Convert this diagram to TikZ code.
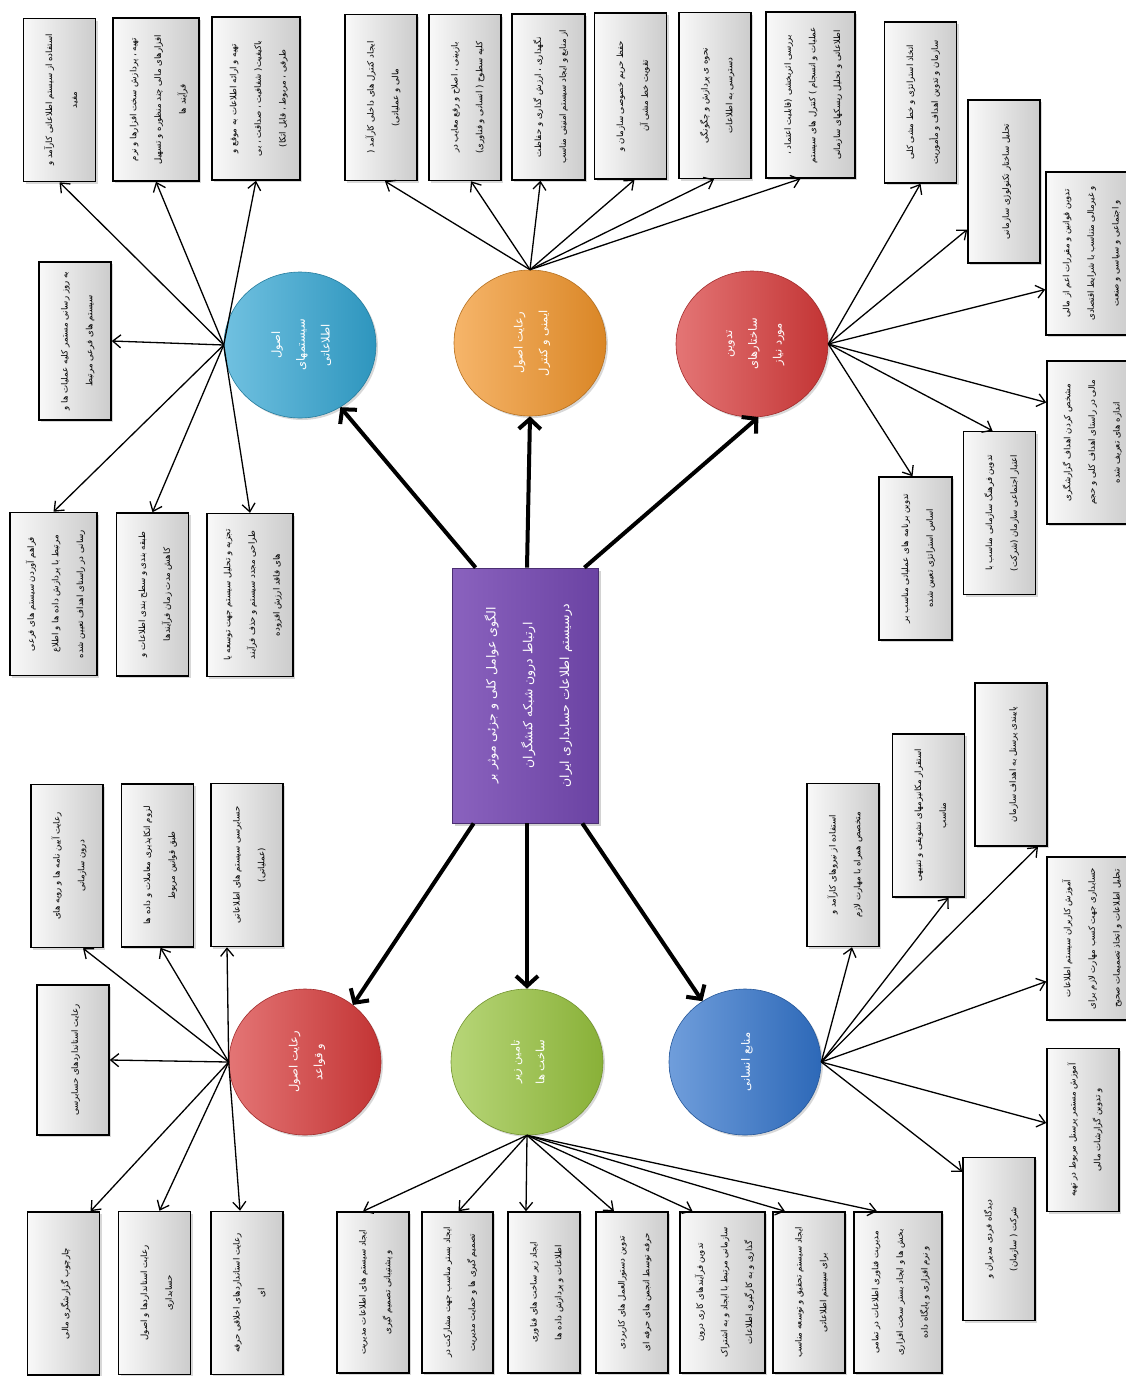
\documentclass[tikz,border=0pt]{standalone}
\usepackage{fontspec}
\usepackage{graphicx}
\usetikzlibrary{arrows.meta,shadows,shapes.geometric}
\newfontfamily\arabicfont[Script=Arabic]{DejaVu Sans}
\TeXXeTstate=1
\newcommand\ar[1]{\beginR #1\endR}
\newcommand\vtext[1]{\rotatebox{90}{\begin{tabular}{@{}c@{}}#1\end{tabular}}}
\definecolor{cblue}{HTML}{33A6D3}
\definecolor{corange}{HTML}{F2952A}
\definecolor{cred}{HTML}{D83A3A}
\definecolor{cgreen}{HTML}{98C43E}
\definecolor{cdblue}{HTML}{3274CC}
\definecolor{cpurpleA}{HTML}{8A62BE}
\definecolor{cpurpleB}{HTML}{6B43A3}
\begin{document}
\begin{tikzpicture}[x=1pt,y=-1pt,
  box/.style={draw=black, line width=1.5pt, left color=gray!5, right color=gray!40,
    minimum width=72pt, minimum height=163pt, inner sep=0pt,
    drop shadow={shadow xshift=2pt,shadow yshift=-2pt,opacity=0.3},
    font={\arabicfont\fontsize{8.6}{10.5}\selectfont\def\arraystretch{2.35}}},
  bubble/.style={ellipse, minimum width=152pt, minimum height=146pt, inner sep=0pt,
    draw=#1!75!black, line width=0.6pt, left color=#1!70!white, right color=#1!90!black,
    drop shadow={shadow xshift=2pt,shadow yshift=-2pt,opacity=0.3},
    text=white, font={\arabicfont\fontsize{11.5}{13}\selectfont\def\arraystretch{1.9}}},
  cboxst/.style={draw=cpurpleB!70!black, line width=0.8pt, left color=cpurpleA, right color=cpurpleB,
    minimum width=146pt, minimum height=255pt, inner sep=0pt,
    drop shadow={shadow xshift=3pt,shadow yshift=-3pt,opacity=0.35},
    text=white, font={\arabicfont\fontsize{12.5}{15}\selectfont\def\arraystretch{2.45}}},
  conn/.style={-{Straight Barb[length=8pt,width=13pt]}, line width=1.3pt},
  bigarrow/.style={-{Straight Barb[length=10pt,width=22pt]}, line width=4pt}
]
\fill[white] (0,0) rectangle (1126,1376);
\useasboundingbox (0,0) rectangle (1126,1376);

% central box
\node[cboxst] (cb) at (525,695.5) {\vtext{\ar{الگوی عوامل کلی و جزئی موثر بر}\\ \ar{ارتباط درون شبکه کنشگران}\\ \ar{درسیستم اطلاعات حسابداری ایران}}};

% circles
\node[bubble=cblue] (bt) at (300,345) {\vtext{\ar{اصول}\\ \ar{سیستمهای}\\ \ar{اطلاعاتی}}};
\node[bubble=corange] (ot) at (530,343) {\vtext{\ar{رعایت اصول}\\ \ar{ایمنی و کنترل}}};
\node[bubble=cred] (rt) at (752,344) {\vtext{\ar{تدوین}\\ \ar{ساختارهای}\\ \ar{مورد نیاز}}};
\node[bubble=cred] (rb) at (305,1062) {\vtext{\ar{رعایت اصول}\\ \ar{و قواعد}}};
\node[bubble=cgreen] (gb) at (527,1062) {\vtext{\ar{تامین زیر}\\ \ar{ساخت ها}}};
\node[bubble=cdblue] (db) at (745,1062) {\vtext{\ar{منابع انسانی}}};

% thick arrows
\draw[bigarrow] ([xshift=24pt]cb.north west) -- (bt.-57);
\draw[bigarrow] ([xshift=2pt]cb.north) -- (ot.south);
\draw[bigarrow] ([xshift=-14pt]cb.north east) -- (rt.-85);
\draw[bigarrow] ([xshift=22pt]cb.south west) -- (rb.50);
\draw[bigarrow] ([xshift=2pt]cb.south) -- (gb.north);
\draw[bigarrow] ([xshift=-16pt]cb.south east) -- (db.125);

% group A (blue top)
\node[box] (A1) at (59.5,100) {\vtext{\ar{استفاده از سیستم اطلاعاتی کارآمد و}\\ \ar{مفید}}};
\node[box, minimum width=86pt] (A2) at (156,99.5) {\vtext{\ar{تهیه ، پردازش سخت افزارها و نرم}\\ \ar{افزارهای مالی چند منظوره و تسهیل}\\ \ar{فرآیند ها}}};
\node[box, minimum width=88pt] (A3) at (256,98.5) {\vtext{\ar{تهیه و ارائه اطلاعات به موقع و}\\ \ar{باکیفیت( شفافیت ، صداقت ، بی}\\ \ar{طرفی ، مربوط ، قابل اتکا)}}};
\node[box, minimum height=158pt] (A4) at (75,341) {\vtext{\ar{به روز رسانی مستمر کلیه عملیات ها و}\\ \ar{سیستم های فرعی مرتبط}}};
\node[box, minimum width=87pt] (A5) at (53.5,594) {\vtext{\ar{فراهم آوردن سیستم های فرعی}\\ \ar{مرتبط با پردازش داده ها و اطلاع}\\ \ar{رسانی در راستای اهداف تعیین شده}}};
\node[box] (A6) at (152.5,594.5) {\vtext{\ar{طبقه بندی و سطح بندی اطلاعات و}\\ \ar{کاهش مدت زمان فرآیندها}}};
\node[box, minimum width=86pt] (A7) at (250,595) {\vtext{\ar{تجزیه و تحلیل سیستم جهت توسعه یا}\\ \ar{طراحی مجدد سیستم و حذف فرآیند}\\ \ar{های فاقد ارزش افزوده}}};
\foreach \n in {A1,A2,A3} \draw[conn] (bt.west) -- (\n.south);
\draw[conn] (bt.west) -- (A4.east);
\foreach \n in {A5,A6,A7} \draw[conn] (bt.west) -- (\n.north);

% group B (orange)
\node[box, minimum height=166pt] (B1) at (381,97.5) {\vtext{\ar{ایجاد کنترل های داخلی کارآمد (}\\ \ar{مالی و عملیاتی)}}};
\node[box, minimum height=166pt] (B2) at (465,97.5) {\vtext{\ar{بازبینی ، اصلاح و رفع معایب در}\\ \ar{کلیه سطوح ( انسانی و فناوری)}}};
\node[box, minimum height=166pt, minimum width=73pt] (B3) at (548.5,97) {\vtext{\ar{نگهداری ، ارزش گذاری و حفاظت}\\ \ar{از منابع و ایجاد سیستم امنیتی مناسب}}};
\node[box, minimum height=166pt] (B4) at (630.5,96) {\vtext{\ar{حفظ حریم خصوصی سازمان و}\\ \ar{تقویت خط مشی آن}}};
\node[box, minimum height=166pt] (B5) at (715,95.5) {\vtext{\ar{نحوه ی پردازش و چگونگی}\\ \ar{دسترسی به اطلاعات}}};
\node[box, minimum height=166pt, minimum width=89pt] (B6) at (810.5,95) {\vtext{\ar{بررسی اثربخشی (قابلیت اعتماد ،}\\ \ar{عملیات و انسجام ) کنترل های سیستم}\\ \ar{اطلاعاتی و تحلیل ریسکهای سازمانی}}};
\foreach \n/\s in {B1/4,B2/6,B3/-8,B4/4,B5/-1,B6/-10} \draw[conn] (ot.north) -- ([xshift=\s pt]\n.south);

% group C (red top)
\node[box, minimum height=161pt] (C1) at (920.5,102.5) {\vtext{\ar{اتخاذ استراتژی و خط مشی کلی}\\ \ar{سازمان و تدوین اهداف و مأموریت}}};
\node[box] (C2) at (1004,181.5) {\vtext{\ar{تحلیل ساختار تکنولوژی سازمانی}}};
\node[box, minimum width=86pt] (C3) at (1089,253.5) {\vtext{\ar{تدوین قوانین و مقررات اعم از مالی}\\ \ar{و غیرمالی متناسب با شرایط اقتصادی}\\ \ar{و اجتماعی و سیاسی و صنعت}}};
\node[box, minimum width=86pt] (C4) at (1090,442.5) {\vtext{\ar{مشخص کردن اهداف گزارشگری}\\ \ar{مالی در راستای اهداف کلی و حجم}\\ \ar{اندازه های تعریف شده}}};
\node[box] (C5) at (999.5,513) {\vtext{\ar{تدوین فرهنگ سازمانی مناسب با}\\ \ar{اعتبار اجتماعی سازمان (شرکت)}}};
\node[box, minimum width=73pt] (C6) at (915.5,558.5) {\vtext{\ar{تدوین برنامه های عملیاتی مناسب بر}\\ \ar{اساس استراتژی تعیین شده}}};
\draw[conn] (rt.east) -- (C1.south);
\draw[conn] (rt.east) -- ([yshift=-48pt]C2.west);
\draw[conn] (rt.east) -- ([yshift=-36pt]C3.west);
\draw[conn] (rt.east) -- ([yshift=40pt]C4.west);
\draw[conn] (rt.east) -- ([xshift=-7pt]C5.north);
\draw[conn] (rt.east) -- ([xshift=-3pt]C6.north);

% group D (dark blue bottom)
\node[box] (D1) at (843,865) {\vtext{\ar{استفاده از نیروهای کارآمد و}\\ \ar{متخصص همراه با مهارت لازم}}};
\node[box] (D2) at (928.5,815.5) {\vtext{\ar{استقرار مکانیزمهای تشویقی و تنبیهی}\\ \ar{مناسب}}};
\node[box] (D3) at (1011,764.5) {\vtext{\ar{پایبندی پرسنل به اهداف سازمان}}};
\node[box, minimum width=86pt] (D4) at (1090,938.5) {\vtext{\ar{آموزش کاربران سیستم اطلاعات}\\ \ar{حسابداری جهت کسب مهارت لازم برای}\\ \ar{تحلیل اطلاعات و اتخاذ تصمیمات صحیح}}};
\node[box] (D5) at (1083,1130) {\vtext{\ar{آموزش مستمر پرسنل مربوط در تهیه}\\ \ar{و تدوین گزارشات مالی}}};
\node[box] (D6) at (999,1239) {\vtext{\ar{دیدگاه فردی مدیران و}\\ \ar{شرکت ( سازمان)}}};
\draw[conn] (db.east) -- ([xshift=9pt]D1.south);
\draw[conn] (db.east) -- ([xshift=20pt]D2.south);
\draw[conn] (db.east) -- ([xshift=27pt]D3.south);
\draw[conn] (db.east) -- ([yshift=-43pt]D4.west);
\draw[conn] (db.east) -- ([yshift=7pt]D5.west);
\draw[conn] (db.east) -- ([yshift=-15pt]D6.north west);

% group E (green)
\node[box, minimum height=161pt] (E1) at (373,1292.5) {\vtext{\ar{ایجاد سیستم های اطلاعات مدیریت}\\ \ar{و پشتیبانی تصمیم گیری}}};
\node[box, minimum height=161pt, minimum width=71pt] (E2) at (457.5,1292.5) {\vtext{\ar{ایجاد بستر مناسب جهت مشارکت در}\\ \ar{تصمیم گیری ها و حمایت مدیریت}}};
\node[box, minimum height=161pt] (E3) at (544,1292.5) {\vtext{\ar{ایجاد زیر ساخت های فناوری}\\ \ar{اطلاعات و پردازش داده ها}}};
\node[box, minimum height=161pt] (E4) at (632,1292.5) {\vtext{\ar{تدوین دستورالعمل های کاربردی}\\ \ar{حرفه توسط انجمن های حرفه ای}}};
\node[box, minimum height=161pt, minimum width=85pt] (E5) at (722.5,1292.5) {\vtext{\ar{تدوین فرآیندهای کاری درون}\\ \ar{سازمانی مرتبط با ایجاد و به اشتراک}\\ \ar{گذاری و به کارگیری اطلاعات}}};
\node[box, minimum height=161pt] (E6) at (809,1292.5) {\vtext{\ar{ایجاد سیستم تحقیق و توسعه مناسب}\\ \ar{برای سیستم اطلاعاتی}}};
\node[box, minimum height=161pt, minimum width=88pt] (E7) at (898,1292.5) {\vtext{\ar{مدیریت فناوری اطلاعات در تمامی}\\ \ar{بخش ها و ایجاد بستر سخت افزاری}\\ \ar{و نرم افزاری و پایگاه داده}}};
\foreach \n/\s in {E1/-10,E2/1,E3/-18,E4/-18,E5/-30,E6/-24,E7/-21} \draw[conn] (gb.south) -- ([xshift=\s pt]\n.north);

% group F (red bottom)
\node[box] (F4) at (67,866) {\vtext{\ar{رعایت آیین نامه ها و رویه های}\\ \ar{درون سازمانی}}};
\node[box] (F5) at (157.5,865.5) {\vtext{\ar{لزوم اتکاپذیری معاملات و داده ها}\\ \ar{طبق قوانین مربوط}}};
\node[box] (F6) at (247,865) {\vtext{\ar{حسابرسی سیستم های اطلاعاتی}\\ \ar{(عملیاتی)}}};
\node[box, minimum height=150pt] (F7) at (73,1060) {\vtext{\ar{رعایت استانداردهای حسابرسی}}};
\node[box] (F1) at (63.5,1293.5) {\vtext{\ar{چارچوب گزارشگری مالی}}};
\node[box] (F2) at (154.5,1293) {\vtext{\ar{رعایت استانداردها و اصول}\\ \ar{حسابداری}}};
\node[box] (F3) at (247,1293) {\vtext{\ar{رعایت استانداردهای اخلاقی حرفه}\\ \ar{ای}}};
\draw[conn] (rb.west) -- ([xshift=16pt]F4.south);
\draw[conn] (rb.west) -- ([xshift=3pt]F5.south);
\draw[conn] (rb.west) -- ([xshift=-20pt]F6.south);
\draw[conn] (rb.west) -- (F7.east);
\draw[conn] (rb.west) -- ([xshift=27pt]F1.north);
\draw[conn] (rb.west) -- ([xshift=5pt]F2.north);
\draw[conn] (rb.west) -- ([xshift=-7pt]F3.north);
\end{tikzpicture}
\end{document}
